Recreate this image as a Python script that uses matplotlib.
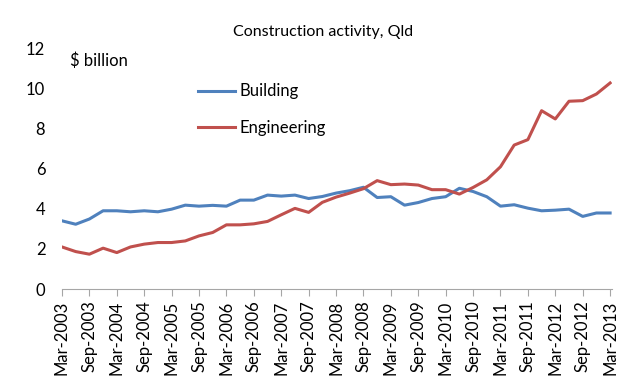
import matplotlib
matplotlib.use("Agg")
import matplotlib.pyplot as plt

# quarterly, Mar-2003 .. Mar-2013
quarters = []
for yr in range(2003, 2014):
    for m in ["Mar", "Jun", "Sep", "Dec"]:
        quarters.append(f"{m}-{yr}")
quarters = quarters[:41]

building = [3.40, 3.23, 3.49, 3.90, 3.90, 3.85, 3.90, 3.85, 3.98, 4.18,
            4.13, 4.17, 4.13, 4.43, 4.43, 4.68, 4.63, 4.68, 4.51, 4.61,
            4.78, 4.90, 5.07, 4.56, 4.60, 4.18, 4.31, 4.51, 4.60, 5.02,
            4.86, 4.60, 4.13, 4.20, 4.03, 3.90, 3.93, 3.98, 3.62, 3.79,
            3.79]
engineering = [2.10, 1.87, 1.74, 2.04, 1.82, 2.10, 2.24, 2.32, 2.32, 2.40,
               2.65, 2.82, 3.20, 3.20, 3.25, 3.37, 3.70, 4.02, 3.82, 4.32,
               4.58, 4.78, 5.00, 5.40, 5.20, 5.23, 5.18, 4.95, 4.95, 4.73,
               5.06, 5.44, 6.09, 7.17, 7.44, 8.88, 8.47, 9.35, 9.38, 9.71,
               10.26]

plt.rcParams['font.family'] = ['Lato', 'DejaVu Sans']

fig = plt.figure(figsize=(6.39, 3.84), dpi=100)
ax = fig.add_axes([0.097, 0.247, 0.861, 0.628])

x = list(range(len(quarters)))
ax.plot(x, building, color="#4F81BD", lw=2.2, label="Building")
ax.plot(x, engineering, color="#C0504D", lw=2.2, label="Engineering")

ax.set_ylim(0, 12)
ax.set_yticks(range(0, 13, 2))
ax.set_xlim(0, 40.15)
ax.set_xticks(x[::2])
ax.set_xticklabels(quarters[::2], rotation=90, fontsize=12)
ax.tick_params(axis="y", length=0, labelsize=12, pad=12)
ax.tick_params(axis="x", length=5, color="#A6A6A6", pad=3)

for s in ["top", "right", "left"]:
    ax.spines[s].set_visible(False)
ax.spines["bottom"].set_color("#A6A6A6")

ax.text(0.015, 0.98, "$ billion", transform=ax.transAxes, fontsize=12,
        va="top", ha="left")
ax.legend(loc="upper left", bbox_to_anchor=(0.22, 0.915), frameon=False,
          fontsize=12, handlelength=2.2, handletextpad=0.3, labelspacing=1.25)

fig.suptitle("Construction activity, Qld", y=0.935, fontsize=11.5, x=0.505)

fig.savefig("out.png", dpi=100)
